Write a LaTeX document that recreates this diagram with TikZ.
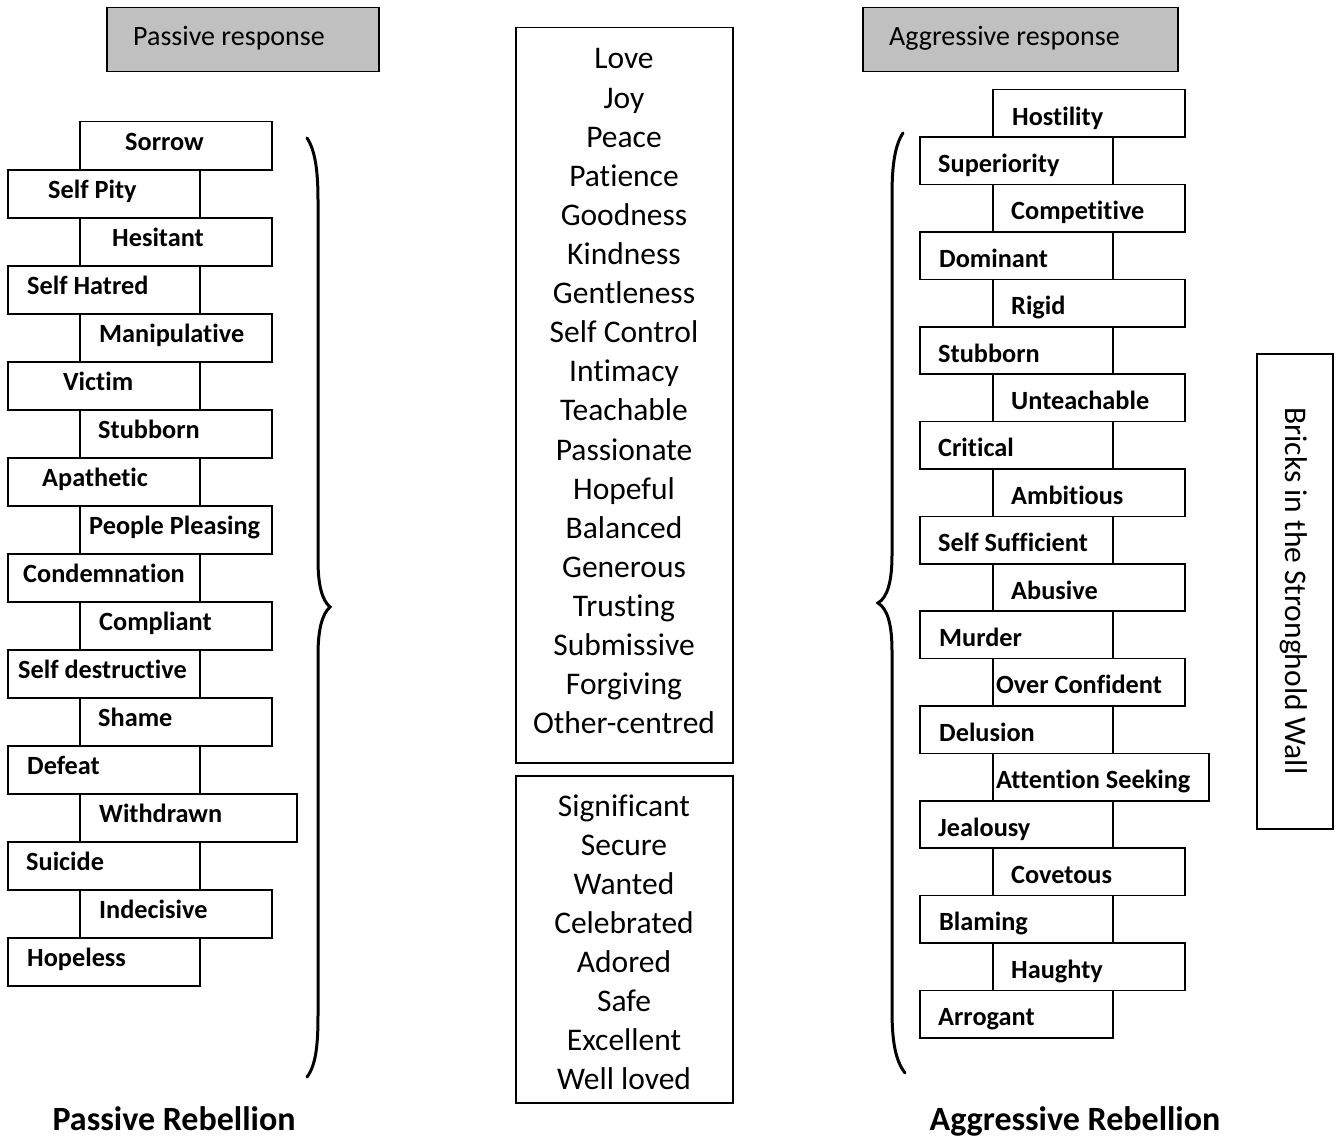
\documentclass[tikz,border=0pt]{standalone}
\usepackage{fontspec}
\setmainfont{Carlito}[Ligatures={NoCommon,NoContextual}]
\definecolor{headgray}{RGB}{192,192,192}
\begin{document}
\begin{tikzpicture}[x=1pt,y=-1pt,
  brick/.style={draw, line width=1.5pt, inner sep=0pt, minimum height=48pt, anchor=north west},
  rbrick/.style={brick, minimum height=47.4pt},
  btext/.style={font=\fontsize{26.3}{30}\selectfont\bfseries, inner sep=0pt, anchor=base west},
  ctext/.style={font=\fontsize{31.5}{38}\selectfont, inner sep=0pt, anchor=base},
  htext/.style={font=\fontsize{28}{32}\selectfont, inner sep=0pt, anchor=base west},
  ttext/.style={font=\fontsize{34}{40}\selectfont\bfseries, inner sep=0pt, anchor=base},
  frame/.style={draw, line width=1.5pt, inner sep=0pt, anchor=north west},
  head/.style={frame, fill=headgray},
  brace/.style={line width=3pt, line cap=round}]
\useasboundingbox (0,0) rectangle (1338,1137);
\fill[white] (0,0) rectangle (1338,1137);

% headers
\node[head, minimum width=272pt, minimum height=64pt] (ph) at (106,7) {};
\node[htext] (pht) at (133,46) {Passive response};
\node[head, minimum width=315pt, minimum height=64pt] (ah) at (862,7) {};
\node[htext] (aht) at (889,46) {Aggressive response};

% left bricks
\foreach \xx/\w/\tx/\t [count=\i from 0] in {
  79/192/125/Sorrow, 7/192/48/Self Pity, 79/192/112/Hesitant, 7/192/27/Self Hatred,
  79/192/99/Manipulative, 7/192/63/Victim, 79/192/98/Stubborn, 7/192/42/Apathetic,
  79/192/89/People Pleasing, 7/192/23/Condemnation, 79/192/99/Compliant, 7/192/18/Self destructive,
  79/192/98/Shame, 7/192/27/Defeat, 79/217/99/Withdrawn, 7/192/26/Suicide,
  79/192/99/Indecisive, 7/192/27/Hopeless}
{
  \node[brick, minimum width=\w pt] (L\i) at (\xx, 121+48*\i) {};
  \node[btext] (Lt\i) at (\tx, 150+48*\i) {\t};
}

% right bricks
\foreach \xx/\w/\tx/\t [count=\i from 0] in {
  992/192/1012/Hostility, 919/193/938/Superiority, 992/192/1011/Competitive, 919/193/939/Dominant,
  992/192/1011/Rigid, 919/193/938/Stubborn, 992/192/1011/Unteachable, 919/193/938/Critical,
  992/192/1011/Ambitious, 919/193/938/Self Sufficient, 992/192/1011/Abusive, 919/193/939/Murder,
  992/192/996/Over Confident, 919/193/939/Delusion, 992/216/996/Attention Seeking, 919/193/938/Jealousy,
  992/192/1011/Covetous, 919/193/939/Blaming, 992/192/1011/Haughty, 919/193/938/Arrogant}
{
  \node[rbrick, minimum width=\w pt] (R\i) at (\xx, 89+47.4*\i) {};
  \node[btext] (Rt\i) at (\tx, 125+47.4*\i) {\t};
}

% centre boxes
\node[frame, minimum width=217pt, minimum height=735pt] (virtues) at (515,27) {};
\foreach \t [count=\i from 0] in {Love, Joy, Peace, Patience, Goodness, Kindness, Gentleness,
  Self Control, Intimacy, Teachable, Passionate, Hopeful, Balanced, Generous, Trusting,
  Submissive, Forgiving, Other-centred}
{
  \node[ctext] (v\i) at (624, 69+39.1*\i) {\t};
}
\node[frame, minimum width=217pt, minimum height=327pt] (identity) at (515,775) {};
\foreach \t [count=\i from 0] in {Significant, Secure, Wanted, Celebrated, Adored, Safe,
  Excellent, Well loved}
{
  \node[ctext] (w\i) at (624, 816+39.1*\i) {\t};
}

% braces
\draw[brace] (307,138) .. controls (315,150) and (318,170) .. (318,200)
  -- (318,560) .. controls (318,585) and (322,600) .. (330,607)
  .. controls (322,614) and (318,630) .. (318,655)
  -- (318,1015) .. controls (318,1045) and (316,1065) .. (307,1077);
\draw[brace] (903,133) .. controls (895,145) and (892,165) .. (892,195)
  -- (892,555) .. controls (892,580) and (888,597) .. (878,603)
  .. controls (888,609) and (892,626) .. (892,651)
  -- (892,1010) .. controls (892,1040) and (895,1060) .. (905,1073);

% stronghold wall
\node[frame, minimum width=76pt, minimum height=475pt] (wall) at (1256,353) {};
\node[font=\fontsize{31.5}{38}\selectfont, inner sep=0pt, rotate=-90] (wallt) at (1294,591) {Bricks in the Stronghold Wall};

% titles
\node[ttext] (prt) at (174,1130) {Passive Rebellion};
\node[ttext] (art) at (1075,1130) {Aggressive Rebellion};
\end{tikzpicture}
\end{document}
